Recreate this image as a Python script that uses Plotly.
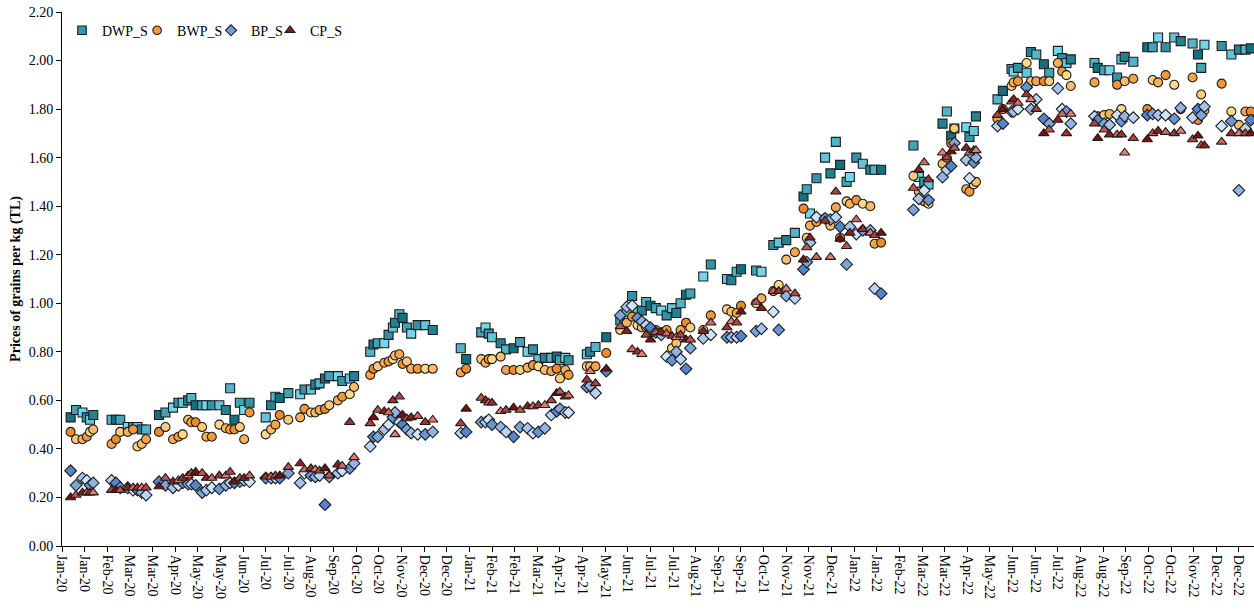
import plotly.graph_objects as go

# Observation dates shared by the four price series
dates = [
    # Jan 2020
    "2020-01-10", "2020-01-15", "2020-01-21", "2020-01-25", "2020-01-28", "2020-01-31",
    # Feb-Mar 2020
    "2020-02-17", "2020-02-21", "2020-02-25", "2020-03-03", "2020-03-08", "2020-03-12",
    "2020-03-16", "2020-03-20",
    # Apr-Jun 2020
    "2020-04-01", "2020-04-07", "2020-04-14", "2020-04-19", "2020-04-23", "2020-04-28",
    "2020-05-01", "2020-05-05", "2020-05-11", "2020-05-15", "2020-05-20", "2020-05-27",
    "2020-06-02", "2020-06-06", "2020-06-10", "2020-06-15", "2020-06-19", "2020-06-24",
    # Jul-Sep 2020
    "2020-07-09", "2020-07-14", "2020-07-18", "2020-07-22", "2020-07-30", "2020-08-10",
    "2020-08-14", "2020-08-20", "2020-08-24", "2020-08-28", "2020-09-02", "2020-09-06",
    "2020-09-14", "2020-09-18", "2020-09-25", "2020-09-29",
    # Oct-Dec 2020
    "2020-10-14", "2020-10-17", "2020-10-21", "2020-10-27", "2020-10-31", "2020-11-04",
    "2020-11-06", "2020-11-10", "2020-11-13", "2020-11-17", "2020-11-21", "2020-11-27",
    "2020-12-04", "2020-12-11",
    # Jan-Apr 2021
    "2021-01-06", "2021-01-11", "2021-01-25", "2021-01-29", "2021-02-01", "2021-02-04",
    "2021-02-12", "2021-02-17", "2021-02-24", "2021-03-02", "2021-03-09", "2021-03-14",
    "2021-03-19", "2021-03-25", "2021-03-31", "2021-04-05", "2021-04-08", "2021-04-13",
    "2021-04-16",
    # May 2021 - Jan 2022
    "2021-05-03", "2021-05-06", "2021-05-11", "2021-05-21", "2021-06-03", "2021-06-09",
    "2021-06-14", "2021-06-19", "2021-06-23", "2021-06-27", "2021-07-01", "2021-07-06",
    "2021-07-11", "2021-07-16", "2021-07-21", "2021-07-25", "2021-07-29", "2021-08-03",
    "2021-08-07", "2021-08-19", "2021-08-26", "2021-09-10", "2021-09-14", "2021-09-19",
    "2021-09-23", "2021-10-07", "2021-10-12", "2021-10-23", "2021-10-28", "2021-11-04",
    "2021-11-12", "2021-11-20", "2021-11-23", "2021-11-26", "2021-12-02", "2021-12-10",
    "2021-12-15", "2021-12-20", "2021-12-24", "2021-12-30", "2022-01-02", "2022-01-08",
    "2022-01-14", "2022-01-21", "2022-01-25", "2022-01-31",
    # Mar-Apr 2022
    "2022-03-02", "2022-03-07", "2022-03-12", "2022-03-16", "2022-03-29", "2022-04-02",
    "2022-04-06", "2022-04-09", "2022-04-20", "2022-04-23", "2022-04-27", "2022-04-29",
    # May-Jul 2022
    "2022-05-19", "2022-05-24", "2022-06-01", "2022-06-03", "2022-06-07", "2022-06-15",
    "2022-06-19", "2022-06-24", "2022-07-01", "2022-07-06", "2022-07-14", "2022-07-18",
    "2022-07-22", "2022-07-26",
    # Aug 2022 - Jan 2023
    "2022-08-17", "2022-08-20", "2022-08-26", "2022-08-31", "2022-09-07", "2022-09-11",
    "2022-09-14", "2022-09-22", "2022-10-05", "2022-10-10", "2022-10-15", "2022-10-22",
    "2022-10-30", "2022-11-05", "2022-11-16", "2022-11-21", "2022-11-24", "2022-11-27",
    "2022-12-13", "2022-12-22", "2022-12-29", "2023-01-04", "2023-01-09",
]

dwp_s = [
    0.53, 0.56, 0.55, 0.53, 0.52, 0.54,
    0.52, 0.52, 0.52, 0.49, 0.49, 0.49, 0.48, 0.48,
    0.54, 0.55, 0.57, 0.59, 0.59, 0.60, 0.61, 0.58, 0.58, 0.58, 0.58, 0.58,
    0.56, 0.65, 0.52, 0.59, 0.56, 0.59,
    0.53, 0.58, 0.615, 0.61, 0.63, 0.625, 0.645, 0.645, 0.665, 0.67, 0.69, 0.70,
    0.70, 0.68, 0.69, 0.70,
    0.80, 0.83, 0.835, 0.835, 0.87, 0.90, 0.92, 0.955, 0.94, 0.90, 0.875, 0.91,
    0.91, 0.89,
    0.815, 0.77, 0.88, 0.90, 0.875, 0.86, 0.835, 0.81, 0.815, 0.84, 0.80, 0.81,
    0.77, 0.775, 0.775, 0.78, 0.765, 0.775, 0.765,
    0.79, 0.80, 0.82, 0.86, 0.93, 0.965, 1.03, 0.965, 0.97, 1.005, 0.99, 0.98,
    0.97, 0.95, 0.98, 0.96, 1.00, 1.035, 1.04, 1.11, 1.16, 1.10, 1.095, 1.13,
    1.14, 1.135, 1.13, 1.24, 1.25, 1.26, 1.29, 1.44, 1.47, 1.37, 1.515, 1.60,
    1.535, 1.665, 1.57, 1.50, 1.52, 1.60, 1.575, 1.55, 1.55, 1.55,
    1.65, 1.52, 1.50, 1.49, 1.74, 1.79, 1.69, 1.72, 1.725, 1.685, 1.71, 1.77,
    1.84, 1.875, 1.965, 1.955, 1.97, 1.95, 2.035, 2.025, 1.985, 1.95, 2.04, 2.01,
    1.99, 2.005,
    1.99, 1.97, 1.96, 1.96, 1.93, 2.005, 2.015, 1.995, 2.055, 2.055, 2.095, 2.055,
    2.095, 2.08, 2.07, 2.025, 1.97, 2.065, 2.06, 2.025, 2.045, 2.045, 2.05,
]

bwp_s = [
    0.47, 0.44, 0.44, 0.45, 0.47, 0.48,
    0.42, 0.44, 0.47, 0.47, 0.48, 0.41, 0.42, 0.44,
    0.47, 0.49, 0.44, 0.45, 0.46, 0.52, 0.51, 0.51, 0.49, 0.45, 0.45, 0.50,
    0.485, 0.48, 0.48, 0.49, 0.44, 0.55,
    0.46, 0.48, 0.50, 0.54, 0.52, 0.53, 0.565, 0.55, 0.55, 0.56, 0.565, 0.58,
    0.60, 0.615, 0.625, 0.655,
    0.705, 0.73, 0.74, 0.755, 0.76, 0.77, 0.785, 0.79, 0.75, 0.76, 0.73, 0.73,
    0.73, 0.73,
    0.715, 0.73, 0.77, 0.755, 0.77, 0.77, 0.78, 0.725, 0.725, 0.725, 0.735, 0.745,
    0.74, 0.725, 0.72, 0.73, 0.69, 0.725, 0.705,
    0.74, 0.74, 0.74, 0.795, 0.89, 0.92, 0.945, 0.91, 0.90, 0.90, 0.88, 0.89,
    0.88, 0.89, 0.815, 0.835, 0.89, 0.92, 0.90, 0.89, 0.95, 0.975, 0.965, 0.96,
    0.99, 1.00, 1.02, 1.05, 1.075, 1.18, 1.21, 1.39, 1.27, 1.32, 1.335, 1.35,
    1.32, 1.395, 1.27, 1.42, 1.41, 1.425, 1.41, 1.40, 1.245, 1.25,
    1.525, 1.46, 1.42, 1.41, 1.575, 1.60, 1.66, 1.72, 1.47, 1.46, 1.49, 1.50,
    1.76, 1.80, 1.895, 1.91, 1.915, 1.99, 1.915, 1.915, 1.915, 1.915, 1.99, 1.955,
    1.94, 1.895,
    1.91, 1.77, 1.775, 1.78, 1.90, 1.80, 1.915, 1.925, 1.80, 1.92, 1.91, 1.94,
    1.90, 1.80, 1.93, 1.755, 1.86, 1.795, 1.905, 1.79, 1.735, 1.79, 1.79,
]

bp_s = [
    0.31, 0.25, 0.28, 0.27, 0.25, 0.26,
    0.27, 0.26, 0.24, 0.24, 0.23, 0.23, 0.22, 0.21,
    0.265, 0.25, 0.24, 0.25, 0.26, 0.255, 0.255, 0.25, 0.22, 0.23, 0.24, 0.235,
    0.25, 0.26, 0.26, 0.265, 0.27, 0.265,
    0.28, 0.28, 0.28, 0.28, 0.30, 0.26, 0.30, 0.29, 0.285, 0.29, 0.17, 0.285,
    0.30, 0.31, 0.32, 0.34,
    0.41, 0.45, 0.45, 0.48, 0.50, 0.53, 0.55, 0.51, 0.50, 0.48, 0.465, 0.46,
    0.46, 0.47,
    0.465, 0.47, 0.51, 0.51, 0.52, 0.50, 0.49, 0.47, 0.45, 0.49, 0.485, 0.465,
    0.47, 0.485, 0.54, 0.555, 0.565, 0.55, 0.55,
    0.655, 0.66, 0.63, 0.72, 0.95, 0.985, 0.99, 0.94, 0.925, 0.91, 0.90, 0.88,
    0.87, 0.78, 0.765, 0.80, 0.77, 0.73, 0.815, 0.855, 0.87, 0.86, 0.86, 0.86,
    0.865, 0.885, 0.895, 0.965, 0.89, 1.03, 1.02, 1.14, 1.17, 1.25, 1.355, 1.35,
    1.345, 1.355, 1.315, 1.16, 1.315, 1.285, 1.30, 1.30, 1.06, 1.04,
    1.385, 1.43, 1.465, 1.425, 1.52, 1.55, 1.565, 1.66, 1.59, 1.515, 1.58, 1.60,
    1.73, 1.74, 1.79, 1.79, 1.80, 1.89, 1.80, 1.84, 1.76, 1.74, 1.885, 1.80,
    1.79, 1.74,
    1.77, 1.755, 1.74, 1.735, 1.775, 1.75, 1.77, 1.765, 1.775, 1.78, 1.775, 1.775,
    1.76, 1.805, 1.765, 1.80, 1.775, 1.81, 1.73, 1.75, 1.465, 1.72, 1.755,
]

cp_s = [
    0.20, 0.21, 0.22, 0.22, 0.22, 0.22,
    0.23, 0.23, 0.23, 0.24, 0.24, 0.24, 0.24, 0.24,
    0.245, 0.28, 0.265, 0.27, 0.28, 0.29, 0.30, 0.305, 0.30, 0.28, 0.28, 0.29,
    0.29, 0.305, 0.265, 0.28, 0.28, 0.29,
    0.285, 0.285, 0.29, 0.29, 0.325, 0.34, 0.315, 0.32, 0.315, 0.31, 0.32, 0.29,
    0.335, 0.33, 0.51, 0.365,
    0.505, 0.53, 0.56, 0.555, 0.55, 0.60, 0.46, 0.615, 0.54, 0.525, 0.53, 0.535,
    0.51, 0.52,
    0.505, 0.565, 0.61, 0.60, 0.59, 0.59, 0.555, 0.56, 0.57, 0.56, 0.575, 0.575,
    0.58, 0.58, 0.60, 0.63, 0.635, 0.615, 0.62,
    0.685, 0.72, 0.67, 0.73, 0.905, 0.885, 0.81, 0.80, 0.79, 0.87, 0.85, 0.88,
    0.88, 0.875, 0.865, 0.86, 0.87, 0.85, 0.85, 0.885, 0.92, 0.90, 0.925, 0.92,
    0.965, 1.005, 0.98, 1.05, 1.05, 1.06, 1.04, 1.18, 1.23, 1.27, 1.19, 1.34,
    1.19, 1.46, 1.265, 1.235, 1.29, 1.345, 1.305, 1.29, 1.28, 1.29,
    1.475, 1.55, 1.58, 1.51, 1.62, 1.60, 1.625, 1.64, 1.64, 1.62, 1.63, 1.63,
    1.775, 1.80, 1.83, 1.84, 1.825, 1.86, 1.84, 1.80, 1.70, 1.715, 1.755, 1.78,
    1.70, 1.78,
    1.74, 1.68, 1.715, 1.695, 1.695, 1.695, 1.62, 1.68, 1.675, 1.70, 1.71, 1.705,
    1.70, 1.71, 1.675, 1.69, 1.65, 1.65, 1.665, 1.70, 1.70, 1.70, 1.70,
]

y_ticks = [0.0, 0.2, 0.4, 0.6, 0.8, 1.0, 1.2, 1.4, 1.6, 1.8, 2.0, 2.2]


def blend(c1, c2, t):
    a = [int(c1[i:i + 2], 16) for i in (1, 3, 5)]
    b = [int(c2[i:i + 2], 16) for i in (1, 3, 5)]
    return "#" + "".join(f"{round(a[k] + (b[k] - a[k]) * t):02x}" for k in range(3))


def shade_list(dark, light, n, step):
    # cycle each marker through the dark-to-light range of its fill
    return [blend(dark, light, ((i * step) % 7) / 6) for i in range(n)]


# name, values, symbol, legend colour, dark fill, light fill, shade step, legend id, legend x
styles = [
    ("DWP_S", dwp_s, "square", "#2a9db3", "#14707f", "#72d6ec", 3, "legend", 0.0),
    ("BWP_S", bwp_s, "circle", "#f39a3b", "#ef8a2a", "#ffd88c", 5, "legend2", 0.063),
    ("BP_S", bp_s, "diamond", "#6f9fdc", "#5485cc", "#cfe4fb", 2, "legend3", 0.125),
    ("CP_S", cp_s, "triangle-up", "#8e1b1b", "#7d0d0d", "#e77a72", 4, "legend4", 0.1745),
]

SERIF = "Liberation Serif, Times New Roman, serif"

fig = go.Figure()
for name, vals, symbol, legend_col, dark, light, step, lg, lx in styles:
    fig.add_trace(go.Scatter(
        x=dates, y=vals, mode="markers", name=name, showlegend=False,
        marker=dict(symbol=symbol, size=9,
                    color=shade_list(dark, light, len(vals), step),
                    line=dict(color="#1c1c1c", width=1.1)),
    ))
for name, vals, symbol, legend_col, dark, light, step, lg, lx in styles:
    fig.add_trace(go.Scatter(
        x=[None], y=[None], mode="markers", name=name, legend=lg,
        marker=dict(symbol=symbol, size=8.5, color=legend_col,
                    line=dict(color="#1c1c1c", width=1.1)),
    ))

legend_layout = {}
for name, vals, symbol, legend_col, dark, light, step, lg, lx in styles:
    legend_layout[lg] = dict(
        orientation="h", x=lx, y=0.995, xanchor="left", yanchor="top",
        font=dict(family=SERIF, size=14, color="black"),
        bgcolor="rgba(0,0,0,0)", itemwidth=30,
    )

fig.update_layout(
    width=1254, height=613,
    margin=dict(l=62, r=0, t=12, b=67),
    paper_bgcolor="white", plot_bgcolor="white",
    font=dict(family=SERIF, size=14, color="black"),
    xaxis=dict(
        type="date", range=["2020-01-02", "2023-01-12"],
        tick0="2020-01-02", dtick=21 * 86400000, tickformat="%b-%y",
        tickangle=90, ticks="outside", ticklen=5, tickcolor="black",
        showline=True, linecolor="black", linewidth=1,
        showgrid=False, zeroline=False,
        tickfont=dict(family=SERIF, size=14, color="black"),
    ),
    yaxis=dict(
        range=[0, 2.2], tickvals=y_ticks, tickformat=".2f",
        ticks="outside", ticklen=5, tickcolor="black",
        showline=True, linecolor="black", linewidth=1,
        showgrid=False, zeroline=False,
        tickfont=dict(family=SERIF, size=14, color="black"),
        title=dict(text="Prices of grains per kg (TL)", standoff=4,
                   font=dict(family=SERIF, size=14, color="black", weight="bold")),
    ),
    **legend_layout,
)

fig.write_html("out.html")
